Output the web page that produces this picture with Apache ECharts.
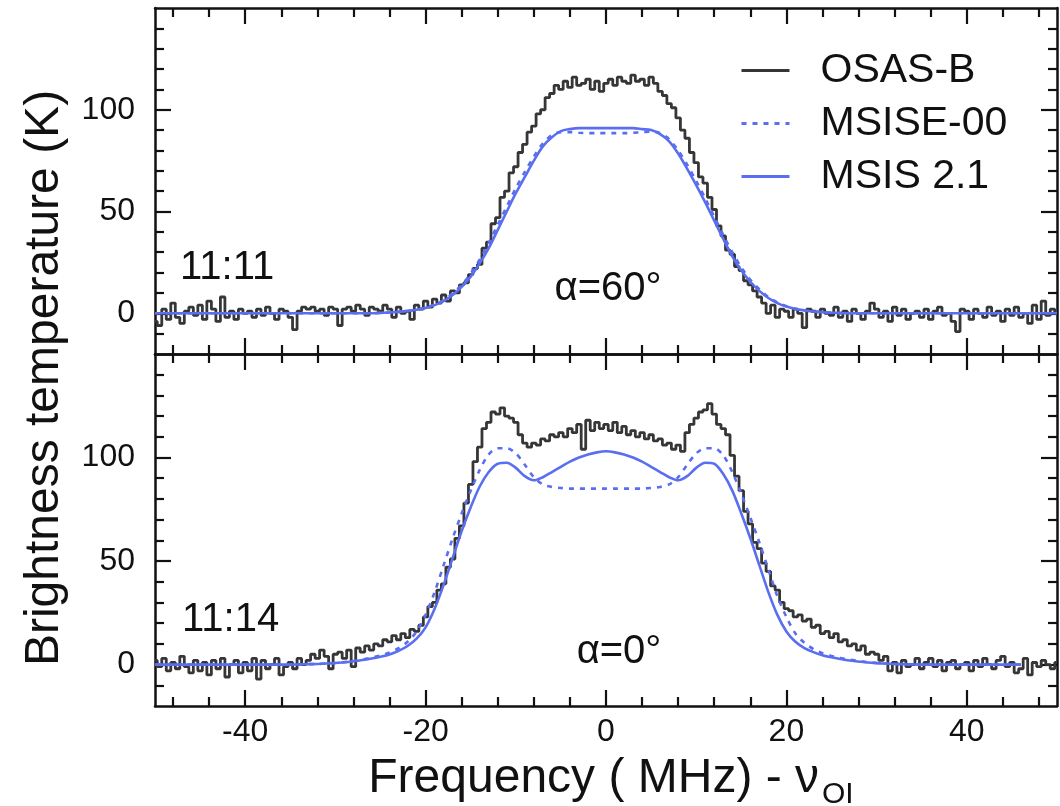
<!DOCTYPE html>
<html>
<head>
<meta charset="utf-8">
<script src="https://cdn.jsdelivr.net/npm/echarts@6/dist/echarts.min.js"></script>
<style>
  html, body { margin: 0; padding: 0; background: #fff; }
  #chart { width: 1060px; height: 806px; }
</style>
</head>
<body>
<div id="chart"></div>
<script>
// ---------------- data ----------------
// Observed spectra (OSAS-B), sampled every 0.5 MHz from -50 to 50 MHz
const obsStart = -50, obsStep = 0.5;
// Model spectra, sampled every 1 MHz from -50 to 50 MHz
const modelStart = -50, modelStep = 1;

// Top panel (11:11, alpha = 60 deg)
const obsTop = [
  -4, -6, 2, -3, 5, -2, -5, 1, 3, -1,
  4, -3, 6, 2, -4, 8, -2, 1, -3, 2,
  0, 1, -2, 2, -1, 3, 0, -3, 2, 1,
  -2, -8, 1, 3, 2, 3, 1, 2, -1, 3,
  2, -6, 2, 3, 1, 4, 2, -1, 3, 2,
  1, 4, 2, -2, 3, 0, 1, -3, 4, 2,
  6, 3, 7, 5, 9, 6, 11, 10, 14, 15,
  19, 22, 24, 32, 35, 44, 47, 57, 60, 69,
  72, 79, 83, 89, 92, 98, 100, 106, 108, 112,
  110, 114, 111, 116, 112, 113, 115, 110, 114, 109,
  113, 115, 112, 116, 114, 113, 117, 114, 115, 112,
  116, 113, 109, 107, 103, 101, 96, 90, 86, 79,
  74, 67, 64, 57, 51, 43, 38, 31, 29, 23,
  21, 16, 14, 11, 8, 5, 0, 4, -2, 2,
  1, -2, 2, 0, -7, 2, 1, -2, 2, 0,
  -1, 3, -2, 1, -4, 2, 0, -3, 1, 5,
  2, -2, 1, -4, 3, -1, 2, -3, 0, 1,
  -2, 2, -3, 1, 3, -1, 0, -4, -9, 2,
  1, -3, 2, 0, -2, 3, -1, 1, -4, 2,
  -1, 3, -2, 0, -5, 4, -3, 6, -1, 2, 0
];
const msise00Top = [
  0, 0, 0, 0, 0, 0, 0, 0, 0, 0, 0, 0, 0, 0, 0, 0, 0, 0, 0, 0, 0, 0, 0, 0, 0,
  0.2, 0.4, 0.7, 1.1, 1.8, 2.8, 4.3, 6.5, 9.8, 14, 19.5, 26.5, 34.5, 43.5, 52.5,
  61.5, 69.5, 77, 83.5, 87.5, 89, 89, 88.7, 88.5, 88.5,
  88.5,
  88.5, 88.5, 88.7, 89, 89.3, 88.5, 85.5, 80, 73, 65,
  56.5, 47.5, 38.5, 30, 22.5, 16.5, 11.8, 8, 5.3, 3.5, 2.2, 1.4, 0.9, 0.5, 0.3,
  0.1, 0, 0, 0, 0, 0, 0, 0, 0, 0, 0, 0, 0, 0, 0, 0, 0, 0, 0, 0, 0, 0, 0, 0, 0
];
const msis21Top = [
  0, 0, 0, 0, 0, 0, 0, 0, 0, 0, 0, 0, 0, 0, 0, 0, 0, 0, 0, 0, 0, 0, 0, 0, 0,
  0.2, 0.4, 0.7, 1.1, 1.7, 2.6, 4, 6, 9, 13, 18, 24.5, 32, 41, 50,
  59, 67, 75, 82, 86.5, 89.5, 90.5, 91, 91, 91,
  91,
  91, 91, 91, 90.5, 90, 88, 84.5, 78.5, 71, 63,
  54.5, 45.5, 36.5, 28, 21, 15.5, 11, 7.5, 5, 3.3, 2.1, 1.4, 0.9, 0.5, 0.3,
  0.1, 0, 0, 0, 0, 0, 0, 0, 0, 0, 0, 0, 0, 0, 0, 0, 0, 0, 0, 0, 0, 0, 0, 0, 0
];

// Bottom panel (11:14, alpha = 0 deg)
const obsBottom = [
  2, -1, 3, -3, 1, -2, 4, -1, -4, 2,
  -3, 1, -5, 2, -2, 3, -6, 0, 2, -4,
  1, -3, 3, -7, 2, -2, 0, 3, -5, -1,
  1, -2, 3, 0, 2, 5, 3, 7, 4, -2,
  5, 6, 3, 7, -1, 8, 6, 9, 7, 10,
  9, 12, 11, 14, 12, 15, 13, 17, 16, 19,
  23, 28, 30, 36, 39, 47, 51, 61, 67, 78,
  87, 98, 105, 114, 117, 122, 121, 124, 120, 119,
  117, 111, 107, 105, 107, 106, 109, 108, 111, 110,
  112, 110, 114, 112, 116, 104, 118, 113, 117, 114,
  116, 113, 117, 112, 115, 111, 113, 110, 112, 109,
  111, 108, 109, 106, 107, 104, 106, 103, 112, 116,
  119, 122, 123, 126, 121, 116, 114, 111, 101, 91,
  84, 74, 68, 59, 56, 49, 45, 38, 36, 30,
  27, 26, 23, 24, 21, 22, 18, 19, 15, 16,
  13, 15, 11, 12, 9, 10, 7, 9, 5, 6,
  5, 2, 4, -3, 1, -4, 2, -1, 0, 3,
  -2, 1, 3, -1, 2, -3, 1, 2, -2, 0,
  1, -3, 2, -1, 3, 0, -2, 2, 4, -1,
  1, -4, -2, 3, -5, 1, -1, 2, 0, -2, 1
];
const msise00Bottom = [
  0, 0, 0, 0, 0, 0, 0, 0, 0, 0, 0, 0, 0, 0, 0, 0,
  0.1, 0.2, 0.3, 0.5, 0.8, 1.2, 1.7, 2.4, 3.3, 4.4, 5.8, 7.9, 11, 16, 24, 35, 48, 61, 73, 84,
  94, 101.5, 104.5, 104.5, 102, 96.5, 90.5, 87, 85.8, 85.3, 85, 85, 85, 85,
  85,
  85, 85, 85, 85, 85.3, 85.8, 87, 90.5, 96.5, 102,
  104.5, 104.5, 101, 93, 82.5, 71, 59, 46, 33, 23, 15, 10.5, 7.5, 5.5, 4.2, 3.2, 2.4, 1.7, 1.2, 0.8,
  0.5, 0.3, 0.2, 0.1, 0, 0, 0, 0, 0, 0, 0, 0, 0, 0, 0, 0
];
const msis21Bottom = [
  0, 0, 0, 0, 0, 0, 0, 0, 0, 0, 0, 0, 0, 0, 0, 0,
  0.1, 0.2, 0.3, 0.5, 0.8, 1.1, 1.6, 2.2, 2.9, 3.8, 4.9, 6.6, 9, 12.5, 18, 27, 38.5, 51.5, 64.5, 76,
  86, 93, 97, 97.5, 95, 91, 89, 90.5, 93, 95.5, 98, 100, 101.5, 102.5,
  103,
  102.5, 101.5, 100, 98, 95.5, 93, 90.5, 89, 91, 95,
  97.5, 97, 92, 84, 73, 61, 48, 35, 24, 16, 11, 8, 6, 4.5, 3.5, 2.7, 2, 1.5, 1, 0.7,
  0.5, 0.3, 0.2, 0.1, 0, 0, 0, 0, 0, 0, 0, 0, 0, 0, 0, 0
];

// Axis ticks and labels
const xRange = [-50, 50];
const yRange = [-20, 150];
const xMajorTicks = [-40, -20, 0, 20, 40];
const xMinorTicks = [-48, -44, -36, -32, -28, -24, -16, -12, -8, -4, 4, 8, 12, 16, 24, 28, 32, 36, 44, 48];
const yMajorTicks = [0, 50, 100];
const yMinorTicks = [-10, 10, 20, 30, 40, 60, 70, 80, 90, 110, 120, 130, 140];

const seriesNames = ['OSAS-B', 'MSISE-00', 'MSIS 2.1'];
const panelTimes = ['11:11', '11:14'];
const panelAngles = ['\u03B1=60\u00B0', '\u03B1=0\u00B0'];
const yTitle = 'Brightness temperature (K)';
const xTitleMain = 'Frequency ( MHz) - \u03BD';
const xTitleSub = 'OI';

// ---------------- styling ----------------
const FONT = '"Liberation Sans", Arial, Helvetica, sans-serif';
const BLACK = '#363636';
const BLUE = '#5a6ef0';
const AXIS = '#111';

function pairs(start, step, vals) {
  return vals.map((v, i) => [start + i * step, v]);
}

function xAxes(gridIndex, withLabels) {
  const base = {
    type: 'value', gridIndex: gridIndex, min: xRange[0], max: xRange[1],
    splitLine: { show: false }
  };
  const mk = (position, ticks, len, showLine, labels) => Object.assign({}, base, {
    position: position,
    axisLine: { show: showLine, onZero: false, lineStyle: { color: AXIS, width: 2.5 } },
    axisTick: { show: true, inside: true, length: len, customValues: ticks,
                lineStyle: { color: AXIS, width: 2.2 } },
    axisLabel: labels ? { show: true, customValues: ticks, fontSize: 32, color: AXIS,
                          fontFamily: FONT, margin: 10 } : { show: false }
  });
  return [
    mk('bottom', xMajorTicks, 16, true, withLabels),
    mk('bottom', xMinorTicks, 9, false, false),
    mk('top', xMajorTicks, 16, true, false),
    mk('top', xMinorTicks, 9, false, false)
  ];
}

function yAxes(gridIndex) {
  const base = {
    type: 'value', gridIndex: gridIndex, min: yRange[0], max: yRange[1],
    splitLine: { show: false }
  };
  const mk = (position, ticks, len, showLine, labels) => Object.assign({}, base, {
    position: position,
    axisLine: { show: showLine, onZero: false, lineStyle: { color: AXIS, width: 2.5 } },
    axisTick: { show: true, inside: true, length: len, customValues: ticks,
                lineStyle: { color: AXIS, width: 2.2 } },
    axisLabel: labels ? { show: true, customValues: ticks, fontSize: 32, color: AXIS,
                          fontFamily: FONT, margin: 20 } : { show: false }
  });
  return [
    mk('left', yMajorTicks, 16, true, true),
    mk('left', yMinorTicks, 9, false, false),
    mk('right', yMajorTicks, 16, true, false),
    mk('right', yMinorTicks, 9, false, false)
  ];
}

function panelSeries(gridIndex, obs, msise, msis) {
  const ax = gridIndex * 4;
  return [
    { type: 'line', name: seriesNames[0], xAxisIndex: ax, yAxisIndex: ax,
      data: pairs(obsStart, obsStep, obs), step: 'middle', symbol: 'none',
      lineStyle: { color: BLACK, width: 2.8 }, itemStyle: { color: BLACK }, z: 2 },
    { type: 'line', name: seriesNames[1], xAxisIndex: ax, yAxisIndex: ax,
      data: pairs(modelStart, modelStep, msise), smooth: 0.3, symbol: 'none',
      lineStyle: { color: BLUE, width: 2.6, type: [5, 6] }, itemStyle: { color: BLUE }, z: 3 },
    { type: 'line', name: seriesNames[2], xAxisIndex: ax, yAxisIndex: ax,
      data: pairs(modelStart, modelStep, msis), smooth: 0.3, symbol: 'none',
      lineStyle: { color: BLUE, width: 2.6 }, itemStyle: { color: BLUE }, z: 4 }
  ];
}

// measure x-title pieces to place the subscript
const mctx = document.createElement('canvas').getContext('2d');
mctx.font = '48px ' + FONT;
const wMain = mctx.measureText(xTitleMain).width;
mctx.font = '30px ' + FONT;
const wSub = mctx.measureText(xTitleSub).width;
const xTitleCenter = 611;
const xTitleStart = xTitleCenter - (wMain + 3 + wSub) / 2;

const chart = echarts.init(document.getElementById('chart'), null, { renderer: 'canvas' });
chart.setOption({
  animation: false,
  backgroundColor: '#fff',
  textStyle: { fontFamily: FONT },
  grid: [
    { left: 155, right: 3, top: 8, height: 346 },
    { left: 155, right: 3, top: 354, height: 352 }
  ],
  xAxis: xAxes(0, false).concat(xAxes(1, true)),
  yAxis: yAxes(0).concat(yAxes(1)),
  legend: {
    orient: 'vertical', left: 735, top: 45,
    itemWidth: 48, itemHeight: 20, itemGap: 12,
    selectedMode: false,
    data: seriesNames,
    itemStyle: { opacity: 0 },
    lineStyle: { width: 3 },
    textStyle: { fontSize: 41, color: AXIS, fontFamily: FONT, lineHeight: 40, padding: [0, 0, 0, 26] }
  },
  graphic: [
    { type: 'text', x: 180, y: 268, silent: true,
      style: { text: panelTimes[0], fontSize: 40, fontFamily: FONT, fill: AXIS, align: 'left', verticalAlign: 'middle' } },
    { type: 'text', x: 182, y: 620, silent: true,
      style: { text: panelTimes[1], fontSize: 40, fontFamily: FONT, fill: AXIS, align: 'left', verticalAlign: 'middle' } },
    { type: 'text', x: 608, y: 289, silent: true,
      style: { text: panelAngles[0], fontSize: 40, fontFamily: FONT, fill: AXIS, align: 'center', verticalAlign: 'middle' } },
    { type: 'text', x: 619, y: 652, silent: true,
      style: { text: panelAngles[1], fontSize: 40, fontFamily: FONT, fill: AXIS, align: 'center', verticalAlign: 'middle' } },
    { type: 'text', x: 45, y: 378, rotation: Math.PI / 2, silent: true,
      style: { text: yTitle, fontSize: 48, fontFamily: FONT, fill: AXIS, align: 'center', verticalAlign: 'middle' } },
    { type: 'text', x: xTitleStart, y: 779, silent: true,
      style: { text: xTitleMain, fontSize: 48, fontFamily: FONT, fill: AXIS, align: 'left', verticalAlign: 'middle' } },
    { type: 'text', x: xTitleStart + wMain + 3, y: 795, silent: true,
      style: { text: xTitleSub, fontSize: 30, fontFamily: FONT, fill: AXIS, align: 'left', verticalAlign: 'middle' } }
  ],
  series: panelSeries(0, obsTop, msise00Top, msis21Top).concat(
          panelSeries(1, obsBottom, msise00Bottom, msis21Bottom))
});
</script>
</body>
</html>
